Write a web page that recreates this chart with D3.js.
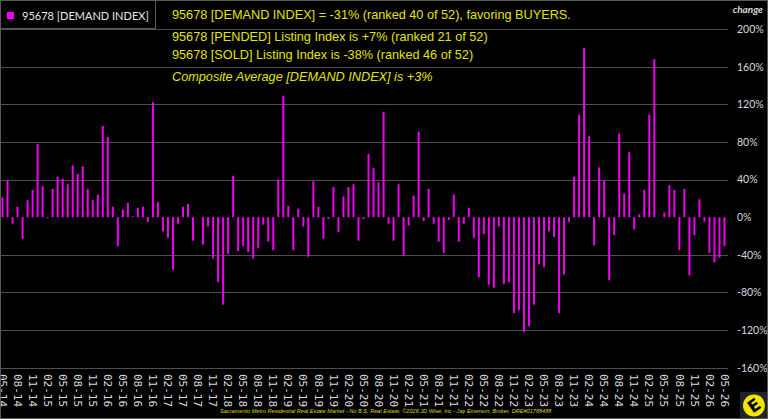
<!DOCTYPE html>
<html>
<head>
<meta charset="utf-8">
<script src="https://cdn.jsdelivr.net/npm/d3@7"></script>
<style>
  body { margin: 0; background: #000; }
  svg { display: block; }
</style>
</head>
<body>
<svg width="768" height="419"></svg>
<script>
// monthly demand index, 05-14 .. 05-26 (percent change)
const demandIndex = [
  21, 39, -7, 11, -23, 18, 29, 78, 33, -1, 30, 43, 41, 35, 55, 46, 54, 30, 18, 24,
  97, 85, 11, -31, 8, 15, 1, 10, 11, -5, 122, 16, -15, -22, -56, -7, 11, 14, -25, 0,
  -29, -10, -44, -69, -93, -39, 44, -36, -31, -37, -44, -33, -8, -26, -35, 40, 129, 12, -35, 9,
  -10, -42, 38, 11, -23, -2, 32, -16, 22, 32, 35, -25, -2, 67, 52, 37, 112, -7, -25, 35,
  -41, -9, 23, 91, -4, 30, -7, -26, -38, -3, 24, -26, -7, 10, -22, -64, -18, -72, -75, -10,
  -71, -69, -102, -99, -122, -116, -93, -50, -53, -15, -21, -102, -61, -5, 43, 109, 180, 86, -30, 53,
  39, -67, -19, 89, 25, 69, -13, 3, 29, 109, 168, 0, 5, 34, 29, -35, 30, -62, -19, 19,
  -5, -38, -48, -43, -31
];
const months = d3.timeMonth.range(new Date(2014, 4, 1), new Date(2026, 5, 1));
const yTicks = [200, 160, 120, 80, 40, 0, -40, -80, -120, -160];
const xTickLabels = months.filter((d, i) => i % 3 === 0).map(d3.timeFormat('%m-%y'));

const legendLabel = '95678 [DEMAND INDEX]';
const infoLines = [
  '95678 [DEMAND INDEX] = -31% (ranked 40 of 52), favoring BUYERS.',
  '95678 [PENDED] Listing Index is +7% (ranked 21 of 52)',
  '95678 [SOLD] Listing Index is -38% (ranked 46 of 52)',
  'Composite Average [DEMAND INDEX] is +3%'
];
const footer = 'Sacramento Metro Residential Real Estate Market - No B.S. Real Estate, \u00a92026 JD Wise, Inc - Jay Emerson, Broker, DRE#01788488';

const svg = d3.select('svg');
const width = +svg.attr('width');
const height = +svg.attr('height');

const data = months.map((m, i) => ({ month: d3.timeFormat('%m-%y')(m), value: demandIndex[i] }));

const plotRight = 727;
const xScale = d3.scaleBand()
  .domain(data.map(d => d.month))
  .range([0, plotRight]);

const yScale = d3.scaleLinear()
  .domain([-160, 200])
  .range([367.7, 29]);

svg.append('rect')
  .attr('width', width).attr('height', height)
  .attr('fill', '#000');

// gridlines
svg.append('g')
  .selectAll('line').data(yTicks.filter(t => t !== 0))
  .enter().append('line')
  .attr('x1', 0).attr('x2', plotRight + 1)
  .attr('y1', d => Math.round(yScale(d)) + 0.5)
  .attr('y2', d => Math.round(yScale(d)) + 0.5)
  .attr('stroke', '#4e4e4e')
  .attr('stroke-width', 1);

// y axis on the right
const yAxis = d3.axisRight(yScale)
  .tickValues(yTicks)
  .tickFormat(d => d + '%')
  .tickSize(0)
  .tickPadding(9);
const yAxisG = svg.append('g')
  .attr('transform', `translate(${plotRight + 1}, 0)`)
  .call(yAxis);
yAxisG.select('.domain').remove();
yAxisG.selectAll('text')
  .attr('fill', '#d8d8d8')
  .style('font-family', 'Lato, sans-serif')
  .style('font-size', '10.5px');

svg.append('text')
  .attr('x', 763).attr('y', 13)
  .attr('text-anchor', 'end')
  .attr('fill', '#d8d8d8')
  .style('font-family', 'Lato, sans-serif')
  .style('font-size', '10px')
  .style('font-weight', 'bold')
  .style('font-style', 'italic')
  .text('change');

// bars
const barW = 2;
svg.append('g')
  .selectAll('rect').data(data)
  .enter().append('rect')
  .attr('x', d => xScale(d.month) + xScale.bandwidth() / 2 - barW / 2)
  .attr('width', barW)
  .attr('y', d => yScale(Math.max(0, d.value)))
  .attr('height', d => Math.abs(yScale(d.value) - yScale(0)))
  .attr('fill', '#f000f0');

// x axis labels (vertical)
const xAxis = d3.axisBottom(xScale)
  .tickValues(xTickLabels)
  .tickSize(0)
  .tickPadding(0);
const xAxisG = svg.append('g')
  .attr('transform', 'translate(0, 374)')
  .call(xAxis);
xAxisG.select('.domain').remove();
xAxisG.selectAll('text')
  .attr('transform', 'rotate(90)')
  .attr('x', 0).attr('y', 0)
  .attr('dy', '0.35em')
  .attr('text-anchor', 'start')
  .attr('fill', '#dcdcdc')
  .style('font-family', '"DejaVu Sans Mono", monospace')
  .style('font-size', '11px');

// legend box
const legend = svg.append('g');
legend.append('rect')
  .attr('x', 0.5).attr('y', 0.5)
  .attr('width', 155).attr('height', 28)
  .attr('fill', '#000')
  .attr('stroke', '#5a5a5a');
legend.append('rect')
  .attr('x', 7).attr('y', 12)
  .attr('width', 7).attr('height', 7)
  .attr('fill', '#f000f0');
legend.append('text')
  .attr('x', 22).attr('y', 19.5)
  .attr('fill', '#e8e8e8')
  .style('font-family', 'Lato, sans-serif')
  .style('font-size', '11px')
  .text(legendLabel);

// info text
const infoY = [19, 41, 59, 81];
svg.append('g')
  .selectAll('text').data(infoLines)
  .enter().append('text')
  .attr('x', 172)
  .attr('y', (d, i) => infoY[i])
  .attr('fill', '#e4e400')
  .style('font-family', '"Liberation Sans", Arial, sans-serif')
  .style('font-size', '12.7px')
  .style('font-style', (d, i) => i === 3 ? 'italic' : 'normal')
  .text(d => d);

// footer
svg.append('text')
  .attr('x', 220).attr('y', 413)
  .attr('fill', '#d8d800')
  .style('font-family', '"Liberation Sans", Arial, sans-serif')
  .style('font-size', '5.6px')
  .style('font-style', 'italic')
  .text(footer);

// logo
const logo = svg.append('g');
logo.append('rect')
  .attr('x', 740).attr('y', 392)
  .attr('width', 28).attr('height', 27)
  .attr('fill', '#222');
logo.append('circle')
  .attr('cx', 754).attr('cy', 405.5).attr('r', 11)
  .attr('fill', '#f2e600');
logo.append('text')
  .attr('x', 754).attr('y', 405.5)
  .attr('dy', '0.36em')
  .attr('text-anchor', 'middle')
  .attr('transform', 'rotate(-35, 754, 405.5)')
  .attr('fill', '#000')
  .style('font-family', '"DejaVu Sans", sans-serif')
  .style('font-weight', 'bold')
  .style('font-size', '17px')
  .text('E');

// outer frame
svg.append('rect')
  .attr('x', 0.5).attr('y', 0.5)
  .attr('width', width - 1).attr('height', height - 1)
  .attr('fill', 'none')
  .attr('stroke', '#5a5a5a');
</script>
</body>
</html>
